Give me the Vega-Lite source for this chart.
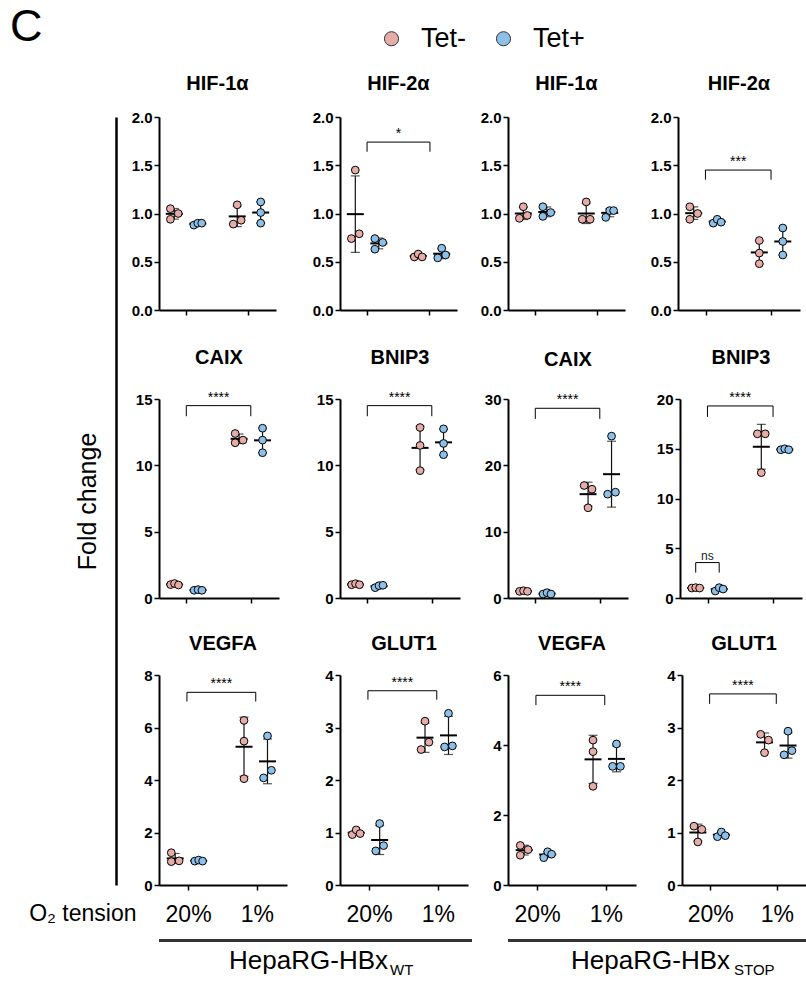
{
"$schema": "https://vega.github.io/schema/vega-lite/v6.json",
"padding": {"left": 10, "top": 4, "right": 0, "bottom": 0},
"title": {"text": "C", "anchor": "start", "fontSize": 45, "fontWeight": "normal", "dx": -106, "offset": -24.5},
"spacing": -10,
"config": {
 "font": "Liberation Sans",
 "view": {"stroke": null},
 "axis": {"grid": false, "domainColor": "black", "domainWidth": 2, "tickColor": "black", "tickWidth": 1.5, "tickSize": 5, "labelColor": "black", "labelFont": "Liberation Sans", "labelFontSize": 15, "labelFontWeight": "bold", "labelPadding": 2, "labelFlush": false, "labelOverlap": false, "titleColor": "black", "titleFont": "Liberation Sans"},
 "axisX": {"labels": false},
 "axisY": {"minExtent": 30},
 "title": {"font": "Liberation Sans", "fontSize": 20, "fontWeight": "bold", "color": "black", "anchor": "middle", "frame": "group", "baseline": "alphabetic"},
 "legend": {"orient": "none", "legendX": 262, "legendY": -92, "direction": "horizontal", "symbolType": "circle", "symbolSize": 200, "symbolStrokeColor": "#333", "symbolStrokeWidth": 1, "symbolOpacity": 1, "labelFont": "Liberation Sans", "labelFontSize": 27, "labelColor": "black", "labelOffset": 16, "columnPadding": 23, "padding": 0}
},
"datasets": {
 "pts": [
  {"p":"H1W","o":"20%","t":"Tet-","s":"Tet-L","v":1.05},{"p":"H1W","o":"20%","t":"Tet-","s":"Tet-R","v":1.00},{"p":"H1W","o":"20%","t":"Tet-","s":"Tet-L","v":0.94},
  {"p":"H1W","o":"20%","t":"Tet+","s":"Tet+L","v":0.88},{"p":"H1W","o":"20%","t":"Tet+","s":"Tet+","v":0.90},{"p":"H1W","o":"20%","t":"Tet+","s":"Tet+R","v":0.90},
  {"p":"H1W","o":"1%","t":"Tet-","s":"Tet-","v":1.09},{"p":"H1W","o":"1%","t":"Tet-","s":"Tet-L","v":0.89},{"p":"H1W","o":"1%","t":"Tet-","s":"Tet-R","v":0.93},
  {"p":"H1W","o":"1%","t":"Tet+","s":"Tet+","v":1.12},{"p":"H1W","o":"1%","t":"Tet+","s":"Tet+","v":1.01},{"p":"H1W","o":"1%","t":"Tet+","s":"Tet+","v":0.90},

  {"p":"H2W","o":"20%","t":"Tet-","s":"Tet-","v":1.45},{"p":"H2W","o":"20%","t":"Tet-","s":"Tet-L","v":0.74},{"p":"H2W","o":"20%","t":"Tet-","s":"Tet-R","v":0.79},
  {"p":"H2W","o":"20%","t":"Tet+","s":"Tet+L","v":0.74},{"p":"H2W","o":"20%","t":"Tet+","s":"Tet+L","v":0.63},{"p":"H2W","o":"20%","t":"Tet+","s":"Tet+R","v":0.70},
  {"p":"H2W","o":"1%","t":"Tet-","s":"Tet-L","v":0.55},{"p":"H2W","o":"1%","t":"Tet-","s":"Tet-","v":0.58},{"p":"H2W","o":"1%","t":"Tet-","s":"Tet-R","v":0.55},
  {"p":"H2W","o":"1%","t":"Tet+","s":"Tet+","v":0.64},{"p":"H2W","o":"1%","t":"Tet+","s":"Tet+L","v":0.54},{"p":"H2W","o":"1%","t":"Tet+","s":"Tet+R","v":0.57},

  {"p":"H1S","o":"20%","t":"Tet-","s":"Tet-","v":1.07},{"p":"H1S","o":"20%","t":"Tet-","s":"Tet-L","v":0.95},{"p":"H1S","o":"20%","t":"Tet-","s":"Tet-R","v":0.98},
  {"p":"H1S","o":"20%","t":"Tet+","s":"Tet+L","v":1.07},{"p":"H1S","o":"20%","t":"Tet+","s":"Tet+L","v":0.97},{"p":"H1S","o":"20%","t":"Tet+","s":"Tet+R","v":1.01},
  {"p":"H1S","o":"1%","t":"Tet-","s":"Tet-","v":1.12},{"p":"H1S","o":"1%","t":"Tet-","s":"Tet-L","v":0.94},{"p":"H1S","o":"1%","t":"Tet-","s":"Tet-R","v":0.94},
  {"p":"H1S","o":"1%","t":"Tet+","s":"Tet+L","v":0.96},{"p":"H1S","o":"1%","t":"Tet+","s":"Tet+","v":1.03},{"p":"H1S","o":"1%","t":"Tet+","s":"Tet+R","v":1.03},

  {"p":"H2S","o":"20%","t":"Tet-","s":"Tet-L","v":1.07},{"p":"H2S","o":"20%","t":"Tet-","s":"Tet-L","v":0.94},{"p":"H2S","o":"20%","t":"Tet-","s":"Tet-R","v":1.00},
  {"p":"H2S","o":"20%","t":"Tet+","s":"Tet+L","v":0.90},{"p":"H2S","o":"20%","t":"Tet+","s":"Tet+","v":0.94},{"p":"H2S","o":"20%","t":"Tet+","s":"Tet+R","v":0.91},
  {"p":"H2S","o":"1%","t":"Tet-","s":"Tet-","v":0.72},{"p":"H2S","o":"1%","t":"Tet-","s":"Tet-","v":0.59},{"p":"H2S","o":"1%","t":"Tet-","s":"Tet-","v":0.48},
  {"p":"H2S","o":"1%","t":"Tet+","s":"Tet+","v":0.85},{"p":"H2S","o":"1%","t":"Tet+","s":"Tet+","v":0.71},{"p":"H2S","o":"1%","t":"Tet+","s":"Tet+","v":0.57},

  {"p":"CAW","o":"20%","t":"Tet-","s":"Tet-L","v":1.01},{"p":"CAW","o":"20%","t":"Tet-","s":"Tet-","v":1.09},{"p":"CAW","o":"20%","t":"Tet-","s":"Tet-R","v":0.98},
  {"p":"CAW","o":"20%","t":"Tet+","s":"Tet+L","v":0.58},{"p":"CAW","o":"20%","t":"Tet+","s":"Tet+","v":0.63},{"p":"CAW","o":"20%","t":"Tet+","s":"Tet+R","v":0.58},
  {"p":"CAW","o":"1%","t":"Tet-","s":"Tet-L","v":12.4},{"p":"CAW","o":"1%","t":"Tet-","s":"Tet-L","v":11.7},{"p":"CAW","o":"1%","t":"Tet-","s":"Tet-R","v":11.9},
  {"p":"CAW","o":"1%","t":"Tet+","s":"Tet+","v":12.8},{"p":"CAW","o":"1%","t":"Tet+","s":"Tet+","v":11.9},{"p":"CAW","o":"1%","t":"Tet+","s":"Tet+","v":10.95},

  {"p":"BNW","o":"20%","t":"Tet-","s":"Tet-L","v":1.0},{"p":"BNW","o":"20%","t":"Tet-","s":"Tet-","v":1.08},{"p":"BNW","o":"20%","t":"Tet-","s":"Tet-R","v":1.0},
  {"p":"BNW","o":"20%","t":"Tet+","s":"Tet+L","v":0.78},{"p":"BNW","o":"20%","t":"Tet+","s":"Tet+","v":0.93},{"p":"BNW","o":"20%","t":"Tet+","s":"Tet+R","v":0.96},
  {"p":"BNW","o":"1%","t":"Tet-","s":"Tet-","v":12.85},{"p":"BNW","o":"1%","t":"Tet-","s":"Tet-","v":11.5},{"p":"BNW","o":"1%","t":"Tet-","s":"Tet-","v":9.6},
  {"p":"BNW","o":"1%","t":"Tet+","s":"Tet+","v":12.75},{"p":"BNW","o":"1%","t":"Tet+","s":"Tet+","v":11.65},{"p":"BNW","o":"1%","t":"Tet+","s":"Tet+","v":10.8},

  {"p":"CAS","o":"20%","t":"Tet-","s":"Tet-L","v":1.0},{"p":"CAS","o":"20%","t":"Tet-","s":"Tet-","v":1.1},{"p":"CAS","o":"20%","t":"Tet-","s":"Tet-R","v":1.0},
  {"p":"CAS","o":"20%","t":"Tet+","s":"Tet+L","v":0.6},{"p":"CAS","o":"20%","t":"Tet+","s":"Tet+","v":0.8},{"p":"CAS","o":"20%","t":"Tet+","s":"Tet+R","v":0.6},
  {"p":"CAS","o":"1%","t":"Tet-","s":"Tet-L","v":16.96},{"p":"CAS","o":"1%","t":"Tet-","s":"Tet-R","v":16.4},{"p":"CAS","o":"1%","t":"Tet-","s":"Tet-","v":13.6},
  {"p":"CAS","o":"1%","t":"Tet+","s":"Tet+","v":24.4},{"p":"CAS","o":"1%","t":"Tet+","s":"Tet+L","v":15.65},{"p":"CAS","o":"1%","t":"Tet+","s":"Tet+R","v":15.95},

  {"p":"BNS","o":"20%","t":"Tet-","s":"Tet-L","v":1.0},{"p":"BNS","o":"20%","t":"Tet-","s":"Tet-","v":1.04},{"p":"BNS","o":"20%","t":"Tet-","s":"Tet-R","v":1.0},
  {"p":"BNS","o":"20%","t":"Tet+","s":"Tet+L","v":0.7},{"p":"BNS","o":"20%","t":"Tet+","s":"Tet+","v":1.04},{"p":"BNS","o":"20%","t":"Tet+","s":"Tet+R","v":0.9},
  {"p":"BNS","o":"1%","t":"Tet-","s":"Tet-L","v":16.5},{"p":"BNS","o":"1%","t":"Tet-","s":"Tet-R","v":16.5},{"p":"BNS","o":"1%","t":"Tet-","s":"Tet-","v":12.6},
  {"p":"BNS","o":"1%","t":"Tet+","s":"Tet+L","v":14.9},{"p":"BNS","o":"1%","t":"Tet+","s":"Tet+","v":15.0},{"p":"BNS","o":"1%","t":"Tet+","s":"Tet+R","v":14.9},

  {"p":"VEW","o":"20%","t":"Tet-","s":"Tet-L","v":1.23},{"p":"VEW","o":"20%","t":"Tet-","s":"Tet-L","v":0.89},{"p":"VEW","o":"20%","t":"Tet-","s":"Tet-R","v":0.92},
  {"p":"VEW","o":"20%","t":"Tet+","s":"Tet+L","v":0.91},{"p":"VEW","o":"20%","t":"Tet+","s":"Tet+","v":0.95},{"p":"VEW","o":"20%","t":"Tet+","s":"Tet+R","v":0.91},
  {"p":"VEW","o":"1%","t":"Tet-","s":"Tet-","v":6.27},{"p":"VEW","o":"1%","t":"Tet-","s":"Tet-","v":5.48},{"p":"VEW","o":"1%","t":"Tet-","s":"Tet-","v":4.05},
  {"p":"VEW","o":"1%","t":"Tet+","s":"Tet+","v":5.68},{"p":"VEW","o":"1%","t":"Tet+","s":"Tet+R","v":4.37},{"p":"VEW","o":"1%","t":"Tet+","s":"Tet+L","v":4.08},

  {"p":"GLW","o":"20%","t":"Tet-","s":"Tet-L","v":0.96},{"p":"GLW","o":"20%","t":"Tet-","s":"Tet-","v":1.05},{"p":"GLW","o":"20%","t":"Tet-","s":"Tet-R","v":0.98},
  {"p":"GLW","o":"20%","t":"Tet+","s":"Tet+","v":1.17},{"p":"GLW","o":"20%","t":"Tet+","s":"Tet+L","v":0.65},{"p":"GLW","o":"20%","t":"Tet+","s":"Tet+R","v":0.75},
  {"p":"GLW","o":"1%","t":"Tet-","s":"Tet-","v":3.12},{"p":"GLW","o":"1%","t":"Tet-","s":"Tet-R","v":2.72},{"p":"GLW","o":"1%","t":"Tet-","s":"Tet-L","v":2.58},
  {"p":"GLW","o":"1%","t":"Tet+","s":"Tet+","v":3.27},{"p":"GLW","o":"1%","t":"Tet+","s":"Tet+L","v":2.63},{"p":"GLW","o":"1%","t":"Tet+","s":"Tet+R","v":2.65},

  {"p":"VES","o":"20%","t":"Tet-","s":"Tet-L","v":1.13},{"p":"VES","o":"20%","t":"Tet-","s":"Tet-L","v":0.85},{"p":"VES","o":"20%","t":"Tet-","s":"Tet-R","v":1.01},
  {"p":"VES","o":"20%","t":"Tet+","s":"Tet+L","v":0.78},{"p":"VES","o":"20%","t":"Tet+","s":"Tet+","v":0.95},{"p":"VES","o":"20%","t":"Tet+","s":"Tet+R","v":0.88},
  {"p":"VES","o":"1%","t":"Tet-","s":"Tet-","v":4.14},{"p":"VES","o":"1%","t":"Tet-","s":"Tet-","v":3.81},{"p":"VES","o":"1%","t":"Tet-","s":"Tet-","v":2.82},
  {"p":"VES","o":"1%","t":"Tet+","s":"Tet+","v":4.03},{"p":"VES","o":"1%","t":"Tet+","s":"Tet+L","v":3.39},{"p":"VES","o":"1%","t":"Tet+","s":"Tet+R","v":3.39},

  {"p":"GLS","o":"20%","t":"Tet-","s":"Tet-L","v":1.12},{"p":"GLS","o":"20%","t":"Tet-","s":"Tet-R","v":1.06},{"p":"GLS","o":"20%","t":"Tet-","s":"Tet-","v":0.82},
  {"p":"GLS","o":"20%","t":"Tet+","s":"Tet+L","v":0.92},{"p":"GLS","o":"20%","t":"Tet+","s":"Tet+","v":1.01},{"p":"GLS","o":"20%","t":"Tet+","s":"Tet+R","v":0.94},
  {"p":"GLS","o":"1%","t":"Tet-","s":"Tet-L","v":2.87},{"p":"GLS","o":"1%","t":"Tet-","s":"Tet-R","v":2.76},{"p":"GLS","o":"1%","t":"Tet-","s":"Tet-","v":2.52},
  {"p":"GLS","o":"1%","t":"Tet+","s":"Tet+","v":2.93},{"p":"GLS","o":"1%","t":"Tet+","s":"Tet+L","v":2.48},{"p":"GLS","o":"1%","t":"Tet+","s":"Tet+R","v":2.56}
 ],
 "brk": [
  {"p":"H2W","id":"a","k":1,"o":"20%","pos":"mid","v":1.64},{"p":"H2W","id":"a","k":2,"o":"20%","pos":"mid","v":1.74},{"p":"H2W","id":"a","k":3,"o":"1%","pos":"mid","v":1.74},{"p":"H2W","id":"a","k":4,"o":"1%","pos":"mid","v":1.64},
  {"p":"H2S","id":"a","k":1,"o":"20%","pos":"mid","v":1.35},{"p":"H2S","id":"a","k":2,"o":"20%","pos":"mid","v":1.45},{"p":"H2S","id":"a","k":3,"o":"1%","pos":"mid","v":1.45},{"p":"H2S","id":"a","k":4,"o":"1%","pos":"mid","v":1.35},
  {"p":"CAW","id":"a","k":1,"o":"20%","pos":"mid","v":13.7},{"p":"CAW","id":"a","k":2,"o":"20%","pos":"mid","v":14.5},{"p":"CAW","id":"a","k":3,"o":"1%","pos":"mid","v":14.5},{"p":"CAW","id":"a","k":4,"o":"1%","pos":"mid","v":13.7},
  {"p":"BNW","id":"a","k":1,"o":"20%","pos":"mid","v":13.7},{"p":"BNW","id":"a","k":2,"o":"20%","pos":"mid","v":14.5},{"p":"BNW","id":"a","k":3,"o":"1%","pos":"mid","v":14.5},{"p":"BNW","id":"a","k":4,"o":"1%","pos":"mid","v":13.7},
  {"p":"CAS","id":"a","k":1,"o":"20%","pos":"mid","v":27.0},{"p":"CAS","id":"a","k":2,"o":"20%","pos":"mid","v":28.6},{"p":"CAS","id":"a","k":3,"o":"1%","pos":"mid","v":28.6},{"p":"CAS","id":"a","k":4,"o":"1%","pos":"mid","v":27.0},
  {"p":"BNS","id":"a","k":1,"o":"20%","pos":"mid","v":18.2},{"p":"BNS","id":"a","k":2,"o":"20%","pos":"mid","v":19.3},{"p":"BNS","id":"a","k":3,"o":"1%","pos":"mid","v":19.3},{"p":"BNS","id":"a","k":4,"o":"1%","pos":"mid","v":18.2},
  {"p":"BNS","id":"b","k":1,"o":"20%","pos":"Tet-","v":2.55},{"p":"BNS","id":"b","k":2,"o":"20%","pos":"Tet-","v":3.56},{"p":"BNS","id":"b","k":3,"o":"20%","pos":"Tet+","v":3.56},{"p":"BNS","id":"b","k":4,"o":"20%","pos":"Tet+","v":2.55},
  {"p":"VEW","id":"a","k":1,"o":"20%","pos":"mid","v":6.99},{"p":"VEW","id":"a","k":2,"o":"20%","pos":"mid","v":7.34},{"p":"VEW","id":"a","k":3,"o":"1%","pos":"mid","v":7.34},{"p":"VEW","id":"a","k":4,"o":"1%","pos":"mid","v":6.99},
  {"p":"GLW","id":"a","k":1,"o":"20%","pos":"mid","v":3.53},{"p":"GLW","id":"a","k":2,"o":"20%","pos":"mid","v":3.70},{"p":"GLW","id":"a","k":3,"o":"1%","pos":"mid","v":3.70},{"p":"GLW","id":"a","k":4,"o":"1%","pos":"mid","v":3.53},
  {"p":"VES","id":"a","k":1,"o":"20%","pos":"mid","v":5.14},{"p":"VES","id":"a","k":2,"o":"20%","pos":"mid","v":5.42},{"p":"VES","id":"a","k":3,"o":"1%","pos":"mid","v":5.42},{"p":"VES","id":"a","k":4,"o":"1%","pos":"mid","v":5.14},
  {"p":"GLS","id":"a","k":1,"o":"20%","pos":"mid","v":3.45},{"p":"GLS","id":"a","k":2,"o":"20%","pos":"mid","v":3.64},{"p":"GLS","id":"a","k":3,"o":"1%","pos":"mid","v":3.64},{"p":"GLS","id":"a","k":4,"o":"1%","pos":"mid","v":3.45}
 ],
 "sig": [
  {"p":"H2W","o":"20%","pos":"mid","v":1.74,"lab":"*"},
  {"p":"H2S","o":"20%","pos":"mid","v":1.45,"lab":"***"},
  {"p":"CAW","o":"20%","pos":"mid","v":14.5,"lab":"****"},
  {"p":"BNW","o":"20%","pos":"mid","v":14.5,"lab":"****"},
  {"p":"CAS","o":"20%","pos":"mid","v":28.6,"lab":"****"},
  {"p":"BNS","o":"20%","pos":"mid","v":19.3,"lab":"****"},
  {"p":"BNS","o":"20%","pos":"mid","v":3.56,"lab":"ns"},
  {"p":"VEW","o":"20%","pos":"mid","v":7.34,"lab":"****"},
  {"p":"GLW","o":"20%","pos":"mid","v":3.70,"lab":"****"},
  {"p":"VES","o":"20%","pos":"mid","v":5.42,"lab":"****"},
  {"p":"GLS","o":"20%","pos":"mid","v":3.64,"lab":"****"}
 ]
},
"hconcat": [
 {"width": 4, "height": 768,
  "title": {"text": " ", "offset": 23},
  "data": {"values": [{"a": 0}]},
  "mark": {"type": "point", "opacity": 0},
  "encoding": {
   "x": {"datum": 0, "type": "quantitative", "scale": {"domain": [0, 1]}, "axis": {"domain": false, "ticks": false, "labels": false, "title": "O₂ tension", "titleFontSize": 23, "titleFontWeight": "normal", "titleAlign": "right", "titleBaseline": "middle", "titleX": 20, "titleY": 28}},
   "y": {"datum": 0, "type": "quantitative", "scale": {"domain": [0, 1]}, "axis": {"domain": true, "domainWidth": 2.5, "ticks": false, "labels": false, "minExtent": 0, "maxExtent": 0, "title": "Fold change", "titleFontSize": 25, "titleFontWeight": "normal", "titlePadding": 16}}
  }
 },
 {"spacing": 6, "hconcat": [
  {"spacing": 27, "vconcat": [
   {"spacing": 30, "vconcat": [
    {"spacing": 34, "hconcat": [
     {"width": 117, "height": 193, "title": {"text": "HIF-1α", "offset": 16.5},
      "layer": [
       {"data": {"name": "pts"}, "transform": [{"filter": "datum.p=='H1W'"}],
        "mark": {"type": "errorbar", "extent": "stdev", "color": "#111", "rule": {"strokeWidth": 1.2}, "ticks": {"size": 9, "thickness": 1.2}},
        "encoding": {"x": {"field": "o", "type": "nominal", "title": null, "scale": {"type": "band", "domain": ["20%", "1%"], "paddingInner": 0.44, "paddingOuter": 0.15}},
         "xOffset": {"field": "t", "type": "nominal", "scale": {"domain": ["Tet-L","Tet-","Tet-R","g1","mid","g2","Tet+L","Tet+","Tet+R"], "paddingInner": 0, "paddingOuter": 0}},
         "y": {"field": "v", "type": "quantitative", "title": null, "scale": {"domain": [0, 2], "nice": false}, "axis": {"values": [0, 0.5, 1, 1.5, 2], "format": ".1f"}}}},
       {"data": {"name": "pts"}, "transform": [{"filter": "datum.p=='H1W'"}],
        "mark": {"type": "tick", "orient": "horizontal", "size": 17, "thickness": 2, "color": "black"},
        "encoding": {"x": {"field": "o", "type": "nominal", "title": null}, "xOffset": {"field": "t", "type": "nominal"}, "y": {"aggregate": "mean", "field": "v", "type": "quantitative", "title": null}}},
       {"data": {"name": "pts"}, "transform": [{"filter": "datum.p=='H1W'"}],
        "mark": {"type": "circle", "size": 60, "stroke": "black", "strokeWidth": 1, "opacity": 1},
        "encoding": {"x": {"field": "o", "type": "nominal", "title": null}, "xOffset": {"field": "s", "type": "nominal"}, "y": {"field": "v", "type": "quantitative", "title": null},
         "color": {"field": "t", "type": "nominal", "title": null, "scale": {"domain": ["Tet-", "Tet+"], "range": ["#E6ACA8", "#8DC0E9"]}}}}
      ]},
     {"width": 117, "height": 193, "title": {"text": "HIF-2α", "offset": 16.5},
      "layer": [
       {"data": {"name": "pts"}, "transform": [{"filter": "datum.p=='H2W'"}],
        "mark": {"type": "errorbar", "extent": "stdev", "color": "#111", "rule": {"strokeWidth": 1.2}, "ticks": {"size": 9, "thickness": 1.2}},
        "encoding": {"x": {"field": "o", "type": "nominal", "title": null, "scale": {"type": "band", "domain": ["20%", "1%"], "paddingInner": 0.44, "paddingOuter": 0.15}},
         "xOffset": {"field": "t", "type": "nominal", "scale": {"domain": ["Tet-L","Tet-","Tet-R","g1","mid","g2","Tet+L","Tet+","Tet+R"], "paddingInner": 0, "paddingOuter": 0}},
         "y": {"field": "v", "type": "quantitative", "title": null, "scale": {"domain": [0, 2], "nice": false}, "axis": {"values": [0, 0.5, 1, 1.5, 2], "format": ".1f"}}}},
       {"data": {"name": "pts"}, "transform": [{"filter": "datum.p=='H2W'"}],
        "mark": {"type": "tick", "orient": "horizontal", "size": 17, "thickness": 2, "color": "black"},
        "encoding": {"x": {"field": "o", "type": "nominal", "title": null}, "xOffset": {"field": "t", "type": "nominal"}, "y": {"aggregate": "mean", "field": "v", "type": "quantitative", "title": null}}},
       {"data": {"name": "pts"}, "transform": [{"filter": "datum.p=='H2W'"}],
        "mark": {"type": "circle", "size": 60, "stroke": "black", "strokeWidth": 1, "opacity": 1},
        "encoding": {"x": {"field": "o", "type": "nominal", "title": null}, "xOffset": {"field": "s", "type": "nominal"}, "y": {"field": "v", "type": "quantitative", "title": null},
         "color": {"field": "t", "type": "nominal", "title": null, "scale": {"domain": ["Tet-", "Tet+"], "range": ["#E6ACA8", "#8DC0E9"]}}}},
       {"data": {"name": "brk"}, "transform": [{"filter": "datum.p=='H2W'"}],
        "mark": {"type": "line", "color": "black", "strokeWidth": 1},
        "encoding": {"x": {"field": "o", "type": "nominal", "title": null}, "xOffset": {"field": "pos", "type": "nominal"}, "y": {"field": "v", "type": "quantitative", "title": null}, "detail": {"field": "id", "type": "nominal"}, "order": {"field": "k", "type": "quantitative"}}},
       {"data": {"name": "sig"}, "transform": [{"filter": "datum.p=='H2W'"}],
        "mark": {"type": "text", "dx": 31.5, "dy": -4, "baseline": "alphabetic", "fontSize": 14, "color": "black"},
        "encoding": {"x": {"field": "o", "type": "nominal", "title": null}, "xOffset": {"field": "pos", "type": "nominal"}, "y": {"field": "v", "type": "quantitative", "title": null}, "text": {"field": "lab"}}}
      ]}
    ]},
    {"spacing": 31, "hconcat": [
     {"width": 120, "height": 199, "title": {"text": "CAIX", "offset": 22.5},
      "layer": [
       {"data": {"name": "pts"}, "transform": [{"filter": "datum.p=='CAW'"}],
        "mark": {"type": "errorbar", "extent": "stdev", "color": "#111", "rule": {"strokeWidth": 1.2}, "ticks": {"size": 9, "thickness": 1.2}},
        "encoding": {"x": {"field": "o", "type": "nominal", "title": null, "scale": {"type": "band", "domain": ["20%", "1%"], "paddingInner": 0.44, "paddingOuter": 0.15}},
         "xOffset": {"field": "t", "type": "nominal", "scale": {"domain": ["Tet-L","Tet-","Tet-R","g1","mid","g2","Tet+L","Tet+","Tet+R"], "paddingInner": 0, "paddingOuter": 0}},
         "y": {"field": "v", "type": "quantitative", "title": null, "scale": {"domain": [0, 15], "nice": false}, "axis": {"values": [0, 5, 10, 15], "format": "d"}}}},
       {"data": {"name": "pts"}, "transform": [{"filter": "datum.p=='CAW'"}],
        "mark": {"type": "tick", "orient": "horizontal", "size": 17, "thickness": 2, "color": "black"},
        "encoding": {"x": {"field": "o", "type": "nominal", "title": null}, "xOffset": {"field": "t", "type": "nominal"}, "y": {"aggregate": "mean", "field": "v", "type": "quantitative", "title": null}}},
       {"data": {"name": "pts"}, "transform": [{"filter": "datum.p=='CAW'"}],
        "mark": {"type": "circle", "size": 60, "stroke": "black", "strokeWidth": 1, "opacity": 1},
        "encoding": {"x": {"field": "o", "type": "nominal", "title": null}, "xOffset": {"field": "s", "type": "nominal"}, "y": {"field": "v", "type": "quantitative", "title": null},
         "color": {"field": "t", "type": "nominal", "title": null, "scale": {"domain": ["Tet-", "Tet+"], "range": ["#E6ACA8", "#8DC0E9"]}}}},
       {"data": {"name": "brk"}, "transform": [{"filter": "datum.p=='CAW'"}],
        "mark": {"type": "line", "color": "black", "strokeWidth": 1},
        "encoding": {"x": {"field": "o", "type": "nominal", "title": null}, "xOffset": {"field": "pos", "type": "nominal"}, "y": {"field": "v", "type": "quantitative", "title": null}, "detail": {"field": "id", "type": "nominal"}, "order": {"field": "k", "type": "quantitative"}}},
       {"data": {"name": "sig"}, "transform": [{"filter": "datum.p=='CAW'"}],
        "mark": {"type": "text", "dx": 32.3, "dy": -4, "baseline": "alphabetic", "fontSize": 14, "color": "black"},
        "encoding": {"x": {"field": "o", "type": "nominal", "title": null}, "xOffset": {"field": "pos", "type": "nominal"}, "y": {"field": "v", "type": "quantitative", "title": null}, "text": {"field": "lab"}}}
      ]},
     {"width": 120, "height": 199, "title": {"text": "BNIP3", "offset": 22.5},
      "layer": [
       {"data": {"name": "pts"}, "transform": [{"filter": "datum.p=='BNW'"}],
        "mark": {"type": "errorbar", "extent": "stdev", "color": "#111", "rule": {"strokeWidth": 1.2}, "ticks": {"size": 9, "thickness": 1.2}},
        "encoding": {"x": {"field": "o", "type": "nominal", "title": null, "scale": {"type": "band", "domain": ["20%", "1%"], "paddingInner": 0.44, "paddingOuter": 0.15}},
         "xOffset": {"field": "t", "type": "nominal", "scale": {"domain": ["Tet-L","Tet-","Tet-R","g1","mid","g2","Tet+L","Tet+","Tet+R"], "paddingInner": 0, "paddingOuter": 0}},
         "y": {"field": "v", "type": "quantitative", "title": null, "scale": {"domain": [0, 15], "nice": false}, "axis": {"values": [0, 5, 10, 15], "format": "d"}}}},
       {"data": {"name": "pts"}, "transform": [{"filter": "datum.p=='BNW'"}],
        "mark": {"type": "tick", "orient": "horizontal", "size": 17, "thickness": 2, "color": "black"},
        "encoding": {"x": {"field": "o", "type": "nominal", "title": null}, "xOffset": {"field": "t", "type": "nominal"}, "y": {"aggregate": "mean", "field": "v", "type": "quantitative", "title": null}}},
       {"data": {"name": "pts"}, "transform": [{"filter": "datum.p=='BNW'"}],
        "mark": {"type": "circle", "size": 60, "stroke": "black", "strokeWidth": 1, "opacity": 1},
        "encoding": {"x": {"field": "o", "type": "nominal", "title": null}, "xOffset": {"field": "s", "type": "nominal"}, "y": {"field": "v", "type": "quantitative", "title": null},
         "color": {"field": "t", "type": "nominal", "title": null, "scale": {"domain": ["Tet-", "Tet+"], "range": ["#E6ACA8", "#8DC0E9"]}}}},
       {"data": {"name": "brk"}, "transform": [{"filter": "datum.p=='BNW'"}],
        "mark": {"type": "line", "color": "black", "strokeWidth": 1},
        "encoding": {"x": {"field": "o", "type": "nominal", "title": null}, "xOffset": {"field": "pos", "type": "nominal"}, "y": {"field": "v", "type": "quantitative", "title": null}, "detail": {"field": "id", "type": "nominal"}, "order": {"field": "k", "type": "quantitative"}}},
       {"data": {"name": "sig"}, "transform": [{"filter": "datum.p=='BNW'"}],
        "mark": {"type": "text", "dx": 32.3, "dy": -4, "baseline": "alphabetic", "fontSize": 14, "color": "black"},
        "encoding": {"x": {"field": "o", "type": "nominal", "title": null}, "xOffset": {"field": "pos", "type": "nominal"}, "y": {"field": "v", "type": "quantitative", "title": null}, "text": {"field": "lab"}}}
      ]}
    ]}
   ]},
   {"spacing": 13, "vconcat": [
    {"spacing": 23, "hconcat": [
     {"width": 128, "height": 210, "title": {"text": "VEGFA", "offset": 14.5},
      "layer": [
       {"data": {"name": "pts"}, "transform": [{"filter": "datum.p=='VEW'"}],
        "mark": {"type": "errorbar", "extent": "stdev", "color": "#111", "rule": {"strokeWidth": 1.2}, "ticks": {"size": 9, "thickness": 1.2}},
        "encoding": {"x": {"field": "o", "type": "nominal", "title": null, "scale": {"type": "band", "domain": ["20%", "1%"], "paddingInner": 0.44, "paddingOuter": 0.15}, "axis": {"labels": true, "labelFontSize": 23, "labelFontWeight": "normal", "labelPadding": 13, "labelAngle": 0}},
         "xOffset": {"field": "t", "type": "nominal", "scale": {"domain": ["Tet-L","Tet-","Tet-R","g1","mid","g2","Tet+L","Tet+","Tet+R"], "paddingInner": 0, "paddingOuter": 0}},
         "y": {"field": "v", "type": "quantitative", "title": null, "scale": {"domain": [0, 8], "nice": false}, "axis": {"values": [0, 2, 4, 6, 8], "format": "d"}}}},
       {"data": {"name": "pts"}, "transform": [{"filter": "datum.p=='VEW'"}],
        "mark": {"type": "tick", "orient": "horizontal", "size": 17, "thickness": 2, "color": "black"},
        "encoding": {"x": {"field": "o", "type": "nominal", "title": null}, "xOffset": {"field": "t", "type": "nominal"}, "y": {"aggregate": "mean", "field": "v", "type": "quantitative", "title": null}}},
       {"data": {"name": "pts"}, "transform": [{"filter": "datum.p=='VEW'"}],
        "mark": {"type": "circle", "size": 60, "stroke": "black", "strokeWidth": 1, "opacity": 1},
        "encoding": {"x": {"field": "o", "type": "nominal", "title": null}, "xOffset": {"field": "s", "type": "nominal"}, "y": {"field": "v", "type": "quantitative", "title": null},
         "color": {"field": "t", "type": "nominal", "title": null, "scale": {"domain": ["Tet-", "Tet+"], "range": ["#E6ACA8", "#8DC0E9"]}}}},
       {"data": {"name": "brk"}, "transform": [{"filter": "datum.p=='VEW'"}],
        "mark": {"type": "line", "color": "black", "strokeWidth": 1},
        "encoding": {"x": {"field": "o", "type": "nominal", "title": null}, "xOffset": {"field": "pos", "type": "nominal"}, "y": {"field": "v", "type": "quantitative", "title": null}, "detail": {"field": "id", "type": "nominal"}, "order": {"field": "k", "type": "quantitative"}}},
       {"data": {"name": "sig"}, "transform": [{"filter": "datum.p=='VEW'"}],
        "mark": {"type": "text", "dx": 34.4, "dy": -4, "baseline": "alphabetic", "fontSize": 14, "color": "black"},
        "encoding": {"x": {"field": "o", "type": "nominal", "title": null}, "xOffset": {"field": "pos", "type": "nominal"}, "y": {"field": "v", "type": "quantitative", "title": null}, "text": {"field": "lab"}}}
      ]},
     {"width": 128, "height": 210, "title": {"text": "GLUT1", "offset": 14.5},
      "layer": [
       {"data": {"name": "pts"}, "transform": [{"filter": "datum.p=='GLW'"}],
        "mark": {"type": "errorbar", "extent": "stdev", "color": "#111", "rule": {"strokeWidth": 1.2}, "ticks": {"size": 9, "thickness": 1.2}},
        "encoding": {"x": {"field": "o", "type": "nominal", "title": null, "scale": {"type": "band", "domain": ["20%", "1%"], "paddingInner": 0.44, "paddingOuter": 0.15}, "axis": {"labels": true, "labelFontSize": 23, "labelFontWeight": "normal", "labelPadding": 13, "labelAngle": 0}},
         "xOffset": {"field": "t", "type": "nominal", "scale": {"domain": ["Tet-L","Tet-","Tet-R","g1","mid","g2","Tet+L","Tet+","Tet+R"], "paddingInner": 0, "paddingOuter": 0}},
         "y": {"field": "v", "type": "quantitative", "title": null, "scale": {"domain": [0, 4], "nice": false}, "axis": {"values": [0, 1, 2, 3, 4], "format": "d"}}}},
       {"data": {"name": "pts"}, "transform": [{"filter": "datum.p=='GLW'"}],
        "mark": {"type": "tick", "orient": "horizontal", "size": 17, "thickness": 2, "color": "black"},
        "encoding": {"x": {"field": "o", "type": "nominal", "title": null}, "xOffset": {"field": "t", "type": "nominal"}, "y": {"aggregate": "mean", "field": "v", "type": "quantitative", "title": null}}},
       {"data": {"name": "pts"}, "transform": [{"filter": "datum.p=='GLW'"}],
        "mark": {"type": "circle", "size": 60, "stroke": "black", "strokeWidth": 1, "opacity": 1},
        "encoding": {"x": {"field": "o", "type": "nominal", "title": null}, "xOffset": {"field": "s", "type": "nominal"}, "y": {"field": "v", "type": "quantitative", "title": null},
         "color": {"field": "t", "type": "nominal", "title": null, "scale": {"domain": ["Tet-", "Tet+"], "range": ["#E6ACA8", "#8DC0E9"]}}}},
       {"data": {"name": "brk"}, "transform": [{"filter": "datum.p=='GLW'"}],
        "mark": {"type": "line", "color": "black", "strokeWidth": 1},
        "encoding": {"x": {"field": "o", "type": "nominal", "title": null}, "xOffset": {"field": "pos", "type": "nominal"}, "y": {"field": "v", "type": "quantitative", "title": null}, "detail": {"field": "id", "type": "nominal"}, "order": {"field": "k", "type": "quantitative"}}},
       {"data": {"name": "sig"}, "transform": [{"filter": "datum.p=='GLW'"}],
        "mark": {"type": "text", "dx": 34.4, "dy": -4, "baseline": "alphabetic", "fontSize": 14, "color": "black"},
        "encoding": {"x": {"field": "o", "type": "nominal", "title": null}, "xOffset": {"field": "pos", "type": "nominal"}, "y": {"field": "v", "type": "quantitative", "title": null}, "text": {"field": "lab"}}}
      ]}
    ]},
    {"width": 313, "height": 3, "data": {"values": [{"a": 0}]},
     "layer": [
      {"mark": {"type": "rect", "color": "#333"}, "encoding": {"y": {"datum": 0, "type": "quantitative", "scale": {"domain": [0, 1]}, "axis": {"domain": false, "ticks": false, "labels": false, "title": null, "minExtent": 33, "maxExtent": 33}}, "y2": {"datum": 1}}},
      {"mark": {"type": "text", "text": "HepaRG-HBx", "align": "right", "baseline": "alphabetic", "dx": 72.5, "dy": 28.5, "fontSize": 26, "color": "black"}, "encoding": {}},
      {"mark": {"type": "text", "text": "WT", "align": "left", "baseline": "alphabetic", "dx": 74.5, "dy": 34.5, "fontSize": 15, "color": "black"}, "encoding": {}}
     ]}
   ]}
  ]},
  {"spacing": 27, "vconcat": [
   {"spacing": 30, "vconcat": [
    {"spacing": 23, "hconcat": [
     {"width": 117, "height": 193, "title": {"text": "HIF-1α", "offset": 16.5},
      "layer": [
       {"data": {"name": "pts"}, "transform": [{"filter": "datum.p=='H1S'"}],
        "mark": {"type": "errorbar", "extent": "stdev", "color": "#111", "rule": {"strokeWidth": 1.2}, "ticks": {"size": 9, "thickness": 1.2}},
        "encoding": {"x": {"field": "o", "type": "nominal", "title": null, "scale": {"type": "band", "domain": ["20%", "1%"], "paddingInner": 0.44, "paddingOuter": 0.15}},
         "xOffset": {"field": "t", "type": "nominal", "scale": {"domain": ["Tet-L","Tet-","Tet-R","g1","mid","g2","Tet+L","Tet+","Tet+R"], "paddingInner": 0, "paddingOuter": 0}},
         "y": {"field": "v", "type": "quantitative", "title": null, "scale": {"domain": [0, 2], "nice": false}, "axis": {"values": [0, 0.5, 1, 1.5, 2], "format": ".1f"}}}},
       {"data": {"name": "pts"}, "transform": [{"filter": "datum.p=='H1S'"}],
        "mark": {"type": "tick", "orient": "horizontal", "size": 17, "thickness": 2, "color": "black"},
        "encoding": {"x": {"field": "o", "type": "nominal", "title": null}, "xOffset": {"field": "t", "type": "nominal"}, "y": {"aggregate": "mean", "field": "v", "type": "quantitative", "title": null}}},
       {"data": {"name": "pts"}, "transform": [{"filter": "datum.p=='H1S'"}],
        "mark": {"type": "circle", "size": 60, "stroke": "black", "strokeWidth": 1, "opacity": 1},
        "encoding": {"x": {"field": "o", "type": "nominal", "title": null}, "xOffset": {"field": "s", "type": "nominal"}, "y": {"field": "v", "type": "quantitative", "title": null},
         "color": {"field": "t", "type": "nominal", "title": null, "scale": {"domain": ["Tet-", "Tet+"], "range": ["#E6ACA8", "#8DC0E9"]}}}}
      ]},
     {"width": 122, "height": 193, "title": {"text": "HIF-2α", "offset": 16.5},
      "layer": [
       {"data": {"name": "pts"}, "transform": [{"filter": "datum.p=='H2S'"}],
        "mark": {"type": "errorbar", "extent": "stdev", "color": "#111", "rule": {"strokeWidth": 1.2}, "ticks": {"size": 9, "thickness": 1.2}},
        "encoding": {"x": {"field": "o", "type": "nominal", "title": null, "scale": {"type": "band", "domain": ["20%", "1%"], "paddingInner": 0.44, "paddingOuter": 0.15}},
         "xOffset": {"field": "t", "type": "nominal", "scale": {"domain": ["Tet-L","Tet-","Tet-R","g1","mid","g2","Tet+L","Tet+","Tet+R"], "paddingInner": 0, "paddingOuter": 0}},
         "y": {"field": "v", "type": "quantitative", "title": null, "scale": {"domain": [0, 2], "nice": false}, "axis": {"values": [0, 0.5, 1, 1.5, 2], "format": ".1f"}}}},
       {"data": {"name": "pts"}, "transform": [{"filter": "datum.p=='H2S'"}],
        "mark": {"type": "tick", "orient": "horizontal", "size": 17, "thickness": 2, "color": "black"},
        "encoding": {"x": {"field": "o", "type": "nominal", "title": null}, "xOffset": {"field": "t", "type": "nominal"}, "y": {"aggregate": "mean", "field": "v", "type": "quantitative", "title": null}}},
       {"data": {"name": "pts"}, "transform": [{"filter": "datum.p=='H2S'"}],
        "mark": {"type": "circle", "size": 60, "stroke": "black", "strokeWidth": 1, "opacity": 1},
        "encoding": {"x": {"field": "o", "type": "nominal", "title": null}, "xOffset": {"field": "s", "type": "nominal"}, "y": {"field": "v", "type": "quantitative", "title": null},
         "color": {"field": "t", "type": "nominal", "title": null, "scale": {"domain": ["Tet-", "Tet+"], "range": ["#E6ACA8", "#8DC0E9"]}}}},
       {"data": {"name": "brk"}, "transform": [{"filter": "datum.p=='H2S'"}],
        "mark": {"type": "line", "color": "black", "strokeWidth": 1},
        "encoding": {"x": {"field": "o", "type": "nominal", "title": null}, "xOffset": {"field": "pos", "type": "nominal"}, "y": {"field": "v", "type": "quantitative", "title": null}, "detail": {"field": "id", "type": "nominal"}, "order": {"field": "k", "type": "quantitative"}}},
       {"data": {"name": "sig"}, "transform": [{"filter": "datum.p=='H2S'"}],
        "mark": {"type": "text", "dx": 32.8, "dy": -4, "baseline": "alphabetic", "fontSize": 14, "color": "black"},
        "encoding": {"x": {"field": "o", "type": "nominal", "title": null}, "xOffset": {"field": "pos", "type": "nominal"}, "y": {"field": "v", "type": "quantitative", "title": null}, "text": {"field": "lab"}}}
      ]}
    ]},
    {"spacing": 22, "hconcat": [
     {"width": 120, "height": 199, "title": {"text": "CAIX", "offset": 22.5},
      "layer": [
       {"data": {"name": "pts"}, "transform": [{"filter": "datum.p=='CAS'"}],
        "mark": {"type": "errorbar", "extent": "stdev", "color": "#111", "rule": {"strokeWidth": 1.2}, "ticks": {"size": 9, "thickness": 1.2}},
        "encoding": {"x": {"field": "o", "type": "nominal", "title": null, "scale": {"type": "band", "domain": ["20%", "1%"], "paddingInner": 0.44, "paddingOuter": 0.15}},
         "xOffset": {"field": "t", "type": "nominal", "scale": {"domain": ["Tet-L","Tet-","Tet-R","g1","mid","g2","Tet+L","Tet+","Tet+R"], "paddingInner": 0, "paddingOuter": 0}},
         "y": {"field": "v", "type": "quantitative", "title": null, "scale": {"domain": [0, 30], "nice": false}, "axis": {"values": [0, 10, 20, 30], "format": "d"}}}},
       {"data": {"name": "pts"}, "transform": [{"filter": "datum.p=='CAS'"}],
        "mark": {"type": "tick", "orient": "horizontal", "size": 17, "thickness": 2, "color": "black"},
        "encoding": {"x": {"field": "o", "type": "nominal", "title": null}, "xOffset": {"field": "t", "type": "nominal"}, "y": {"aggregate": "mean", "field": "v", "type": "quantitative", "title": null}}},
       {"data": {"name": "pts"}, "transform": [{"filter": "datum.p=='CAS'"}],
        "mark": {"type": "circle", "size": 60, "stroke": "black", "strokeWidth": 1, "opacity": 1},
        "encoding": {"x": {"field": "o", "type": "nominal", "title": null}, "xOffset": {"field": "s", "type": "nominal"}, "y": {"field": "v", "type": "quantitative", "title": null},
         "color": {"field": "t", "type": "nominal", "title": null, "scale": {"domain": ["Tet-", "Tet+"], "range": ["#E6ACA8", "#8DC0E9"]}}}},
       {"data": {"name": "brk"}, "transform": [{"filter": "datum.p=='CAS'"}],
        "mark": {"type": "line", "color": "black", "strokeWidth": 1},
        "encoding": {"x": {"field": "o", "type": "nominal", "title": null}, "xOffset": {"field": "pos", "type": "nominal"}, "y": {"field": "v", "type": "quantitative", "title": null}, "detail": {"field": "id", "type": "nominal"}, "order": {"field": "k", "type": "quantitative"}}},
       {"data": {"name": "sig"}, "transform": [{"filter": "datum.p=='CAS'"}],
        "mark": {"type": "text", "dx": 32.3, "dy": -4, "baseline": "alphabetic", "fontSize": 14, "color": "black"},
        "encoding": {"x": {"field": "o", "type": "nominal", "title": null}, "xOffset": {"field": "pos", "type": "nominal"}, "y": {"field": "v", "type": "quantitative", "title": null}, "text": {"field": "lab"}}}
      ]},
     {"width": 122, "height": 199, "title": {"text": "BNIP3", "offset": 22.5},
      "layer": [
       {"data": {"name": "pts"}, "transform": [{"filter": "datum.p=='BNS'"}],
        "mark": {"type": "errorbar", "extent": "stdev", "color": "#111", "rule": {"strokeWidth": 1.2}, "ticks": {"size": 9, "thickness": 1.2}},
        "encoding": {"x": {"field": "o", "type": "nominal", "title": null, "scale": {"type": "band", "domain": ["20%", "1%"], "paddingInner": 0.44, "paddingOuter": 0.15}},
         "xOffset": {"field": "t", "type": "nominal", "scale": {"domain": ["Tet-L","Tet-","Tet-R","g1","mid","g2","Tet+L","Tet+","Tet+R"], "paddingInner": 0, "paddingOuter": 0}},
         "y": {"field": "v", "type": "quantitative", "title": null, "scale": {"domain": [0, 20], "nice": false}, "axis": {"values": [0, 5, 10, 15, 20], "format": "d"}}}},
       {"data": {"name": "pts"}, "transform": [{"filter": "datum.p=='BNS'"}],
        "mark": {"type": "tick", "orient": "horizontal", "size": 17, "thickness": 2, "color": "black"},
        "encoding": {"x": {"field": "o", "type": "nominal", "title": null}, "xOffset": {"field": "t", "type": "nominal"}, "y": {"aggregate": "mean", "field": "v", "type": "quantitative", "title": null}}},
       {"data": {"name": "pts"}, "transform": [{"filter": "datum.p=='BNS'"}],
        "mark": {"type": "circle", "size": 60, "stroke": "black", "strokeWidth": 1, "opacity": 1},
        "encoding": {"x": {"field": "o", "type": "nominal", "title": null}, "xOffset": {"field": "s", "type": "nominal"}, "y": {"field": "v", "type": "quantitative", "title": null},
         "color": {"field": "t", "type": "nominal", "title": null, "scale": {"domain": ["Tet-", "Tet+"], "range": ["#E6ACA8", "#8DC0E9"]}}}},
       {"data": {"name": "brk"}, "transform": [{"filter": "datum.p=='BNS'"}],
        "mark": {"type": "line", "color": "black", "strokeWidth": 1},
        "encoding": {"x": {"field": "o", "type": "nominal", "title": null}, "xOffset": {"field": "pos", "type": "nominal"}, "y": {"field": "v", "type": "quantitative", "title": null}, "detail": {"field": "id", "type": "nominal"}, "order": {"field": "k", "type": "quantitative"}}},
       {"data": {"name": "sig"}, "transform": [{"filter": "datum.p=='BNS' && datum.lab!='ns'"}],
        "mark": {"type": "text", "dx": 32.8, "dy": -4, "baseline": "alphabetic", "fontSize": 14, "color": "black"},
        "encoding": {"x": {"field": "o", "type": "nominal", "title": null}, "xOffset": {"field": "pos", "type": "nominal"}, "y": {"field": "v", "type": "quantitative", "title": null}, "text": {"field": "lab"}}},
       {"data": {"name": "sig"}, "transform": [{"filter": "datum.p=='BNS' && datum.lab=='ns'"}],
        "mark": {"type": "text", "dy": -3, "baseline": "alphabetic", "fontSize": 12, "color": "#222"},
        "encoding": {"x": {"field": "o", "type": "nominal", "title": null}, "xOffset": {"field": "pos", "type": "nominal"}, "y": {"field": "v", "type": "quantitative", "title": null}, "text": {"field": "lab"}}}
      ]}
    ]}
   ]},
   {"spacing": 13, "vconcat": [
    {"spacing": 16, "hconcat": [
     {"width": 128, "height": 210, "title": {"text": "VEGFA", "offset": 14.5},
      "layer": [
       {"data": {"name": "pts"}, "transform": [{"filter": "datum.p=='VES'"}],
        "mark": {"type": "errorbar", "extent": "stdev", "color": "#111", "rule": {"strokeWidth": 1.2}, "ticks": {"size": 9, "thickness": 1.2}},
        "encoding": {"x": {"field": "o", "type": "nominal", "title": null, "scale": {"type": "band", "domain": ["20%", "1%"], "paddingInner": 0.44, "paddingOuter": 0.15}, "axis": {"labels": true, "labelFontSize": 23, "labelFontWeight": "normal", "labelPadding": 13, "labelAngle": 0}},
         "xOffset": {"field": "t", "type": "nominal", "scale": {"domain": ["Tet-L","Tet-","Tet-R","g1","mid","g2","Tet+L","Tet+","Tet+R"], "paddingInner": 0, "paddingOuter": 0}},
         "y": {"field": "v", "type": "quantitative", "title": null, "scale": {"domain": [0, 6], "nice": false}, "axis": {"values": [0, 2, 4, 6], "format": "d"}}}},
       {"data": {"name": "pts"}, "transform": [{"filter": "datum.p=='VES'"}],
        "mark": {"type": "tick", "orient": "horizontal", "size": 17, "thickness": 2, "color": "black"},
        "encoding": {"x": {"field": "o", "type": "nominal", "title": null}, "xOffset": {"field": "t", "type": "nominal"}, "y": {"aggregate": "mean", "field": "v", "type": "quantitative", "title": null}}},
       {"data": {"name": "pts"}, "transform": [{"filter": "datum.p=='VES'"}],
        "mark": {"type": "circle", "size": 60, "stroke": "black", "strokeWidth": 1, "opacity": 1},
        "encoding": {"x": {"field": "o", "type": "nominal", "title": null}, "xOffset": {"field": "s", "type": "nominal"}, "y": {"field": "v", "type": "quantitative", "title": null},
         "color": {"field": "t", "type": "nominal", "title": null, "scale": {"domain": ["Tet-", "Tet+"], "range": ["#E6ACA8", "#8DC0E9"]}}}},
       {"data": {"name": "brk"}, "transform": [{"filter": "datum.p=='VES'"}],
        "mark": {"type": "line", "color": "black", "strokeWidth": 1},
        "encoding": {"x": {"field": "o", "type": "nominal", "title": null}, "xOffset": {"field": "pos", "type": "nominal"}, "y": {"field": "v", "type": "quantitative", "title": null}, "detail": {"field": "id", "type": "nominal"}, "order": {"field": "k", "type": "quantitative"}}},
       {"data": {"name": "sig"}, "transform": [{"filter": "datum.p=='VES'"}],
        "mark": {"type": "text", "dx": 34.4, "dy": -4, "baseline": "alphabetic", "fontSize": 14, "color": "black"},
        "encoding": {"x": {"field": "o", "type": "nominal", "title": null}, "xOffset": {"field": "pos", "type": "nominal"}, "y": {"field": "v", "type": "quantitative", "title": null}, "text": {"field": "lab"}}}
      ]},
     {"width": 124, "height": 210, "title": {"text": "GLUT1", "offset": 14.5},
      "layer": [
       {"data": {"name": "pts"}, "transform": [{"filter": "datum.p=='GLS'"}],
        "mark": {"type": "errorbar", "extent": "stdev", "color": "#111", "rule": {"strokeWidth": 1.2}, "ticks": {"size": 9, "thickness": 1.2}},
        "encoding": {"x": {"field": "o", "type": "nominal", "title": null, "scale": {"type": "band", "domain": ["20%", "1%"], "paddingInner": 0.44, "paddingOuter": 0.15}, "axis": {"labels": true, "labelFontSize": 23, "labelFontWeight": "normal", "labelPadding": 13, "labelAngle": 0}},
         "xOffset": {"field": "t", "type": "nominal", "scale": {"domain": ["Tet-L","Tet-","Tet-R","g1","mid","g2","Tet+L","Tet+","Tet+R"], "paddingInner": 0, "paddingOuter": 0}},
         "y": {"field": "v", "type": "quantitative", "title": null, "scale": {"domain": [0, 4], "nice": false}, "axis": {"values": [0, 1, 2, 3, 4], "format": "d"}}}},
       {"data": {"name": "pts"}, "transform": [{"filter": "datum.p=='GLS'"}],
        "mark": {"type": "tick", "orient": "horizontal", "size": 17, "thickness": 2, "color": "black"},
        "encoding": {"x": {"field": "o", "type": "nominal", "title": null}, "xOffset": {"field": "t", "type": "nominal"}, "y": {"aggregate": "mean", "field": "v", "type": "quantitative", "title": null}}},
       {"data": {"name": "pts"}, "transform": [{"filter": "datum.p=='GLS'"}],
        "mark": {"type": "circle", "size": 60, "stroke": "black", "strokeWidth": 1, "opacity": 1},
        "encoding": {"x": {"field": "o", "type": "nominal", "title": null}, "xOffset": {"field": "s", "type": "nominal"}, "y": {"field": "v", "type": "quantitative", "title": null},
         "color": {"field": "t", "type": "nominal", "title": null, "scale": {"domain": ["Tet-", "Tet+"], "range": ["#E6ACA8", "#8DC0E9"]}}}},
       {"data": {"name": "brk"}, "transform": [{"filter": "datum.p=='GLS'"}],
        "mark": {"type": "line", "color": "black", "strokeWidth": 1},
        "encoding": {"x": {"field": "o", "type": "nominal", "title": null}, "xOffset": {"field": "pos", "type": "nominal"}, "y": {"field": "v", "type": "quantitative", "title": null}, "detail": {"field": "id", "type": "nominal"}, "order": {"field": "k", "type": "quantitative"}}},
       {"data": {"name": "sig"}, "transform": [{"filter": "datum.p=='GLS'"}],
        "mark": {"type": "text", "dx": 33.3, "dy": -4, "baseline": "alphabetic", "fontSize": 14, "color": "black"},
        "encoding": {"x": {"field": "o", "type": "nominal", "title": null}, "xOffset": {"field": "pos", "type": "nominal"}, "y": {"field": "v", "type": "quantitative", "title": null}, "text": {"field": "lab"}}}
      ]}
    ]},
    {"width": 300, "height": 3, "data": {"values": [{"a": 0}]},
     "layer": [
      {"mark": {"type": "rect", "color": "#333"}, "encoding": {"y": {"datum": 0, "type": "quantitative", "scale": {"domain": [0, 1]}, "axis": {"domain": false, "ticks": false, "labels": false, "title": null, "minExtent": 28, "maxExtent": 28}}, "y2": {"datum": 1}}},
      {"mark": {"type": "text", "text": "HepaRG-HBx", "align": "right", "baseline": "alphabetic", "dx": 72, "dy": 28.5, "fontSize": 26, "color": "black"}, "encoding": {}},
      {"mark": {"type": "text", "text": "STOP", "align": "left", "baseline": "alphabetic", "dx": 76, "dy": 34.5, "fontSize": 15, "color": "black"}, "encoding": {}}
     ]}
   ]}
  ]}
 ]}
]
}
